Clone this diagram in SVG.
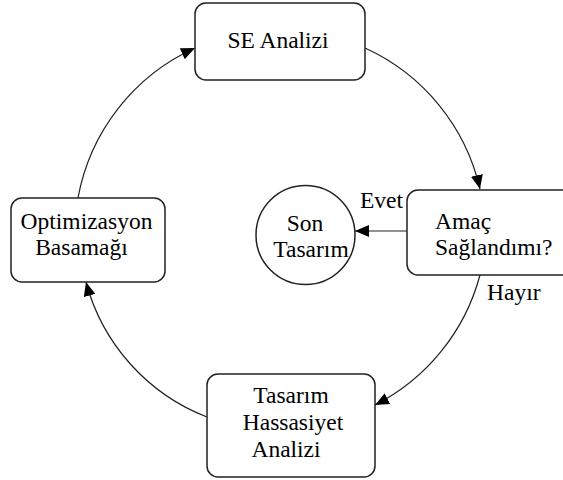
<svg xmlns="http://www.w3.org/2000/svg" width="563" height="480" viewBox="0 0 563 480">
<defs>
<style>
.box{fill:#fff;stroke:#222;stroke-width:1.5}
.t{font-family:"Liberation Serif","Times New Roman",serif;font-size:23.5px;fill:#000}
.c{text-anchor:middle}
.e{fill:none;stroke:#222;stroke-width:1.2}
</style>
<marker id="ah" markerUnits="userSpaceOnUse" markerWidth="16" markerHeight="12" refX="14" refY="6" orient="auto">
<path d="M0,0 L14,6 L0,12 Z" fill="#000"/>
</marker>
</defs>
<rect width="563" height="480" fill="#fff"/>
<g id="connectors">
<path class="e" d="M365,48 A205,205 0 0 1 480,189" marker-end="url(#ah)"/>
<path class="e" d="M480,275 A205,205 0 0 1 375,405" marker-end="url(#ah)"/>
<path class="e" d="M207,417 A200,200 0 0 1 86,282" marker-end="url(#ah)"/>
<path class="e" d="M78,198 A205,205 0 0 1 195,48" marker-end="url(#ah)"/>
<path class="e" d="M407,231 L355,231" marker-end="url(#ah)"/>
<text class="t" x="360" y="208">Evet</text>
<text class="t" x="487" y="300">Hayır</text>
</g>
<g id="se-analizi">
<rect class="box" x="195" y="3" width="170" height="77" rx="11"/>
<text class="t c" x="278" y="48">SE Analizi</text>
</g>
<g id="amac">
<rect class="box" x="407" y="190" width="170" height="85" rx="11"/>
<text class="t" x="435" y="229">Amaç</text>
<text class="t" x="435" y="255">Sağlandımı?</text>
</g>
<g id="son-tasarim">
<circle class="box" cx="305.5" cy="235" r="49.5"/>
<text class="t c" x="305" y="231">Son</text>
<text class="t c" x="311" y="257">Tasarım</text>
</g>
<g id="optimizasyon">
<rect class="box" x="11" y="198" width="154" height="84" rx="11"/>
<text class="t c" x="86.5" y="229">Optimizasyon</text>
<text class="t c" x="81.5" y="255">Basamağı</text>
</g>
<g id="tasarim-hassasiyet">
<rect class="box" x="207" y="374" width="168" height="103" rx="11"/>
<text class="t c" x="291" y="403">Tasarım</text>
<text class="t c" x="293" y="430">Hassasiyet</text>
<text class="t c" x="286" y="457">Analizi</text>
</g>
</svg>
